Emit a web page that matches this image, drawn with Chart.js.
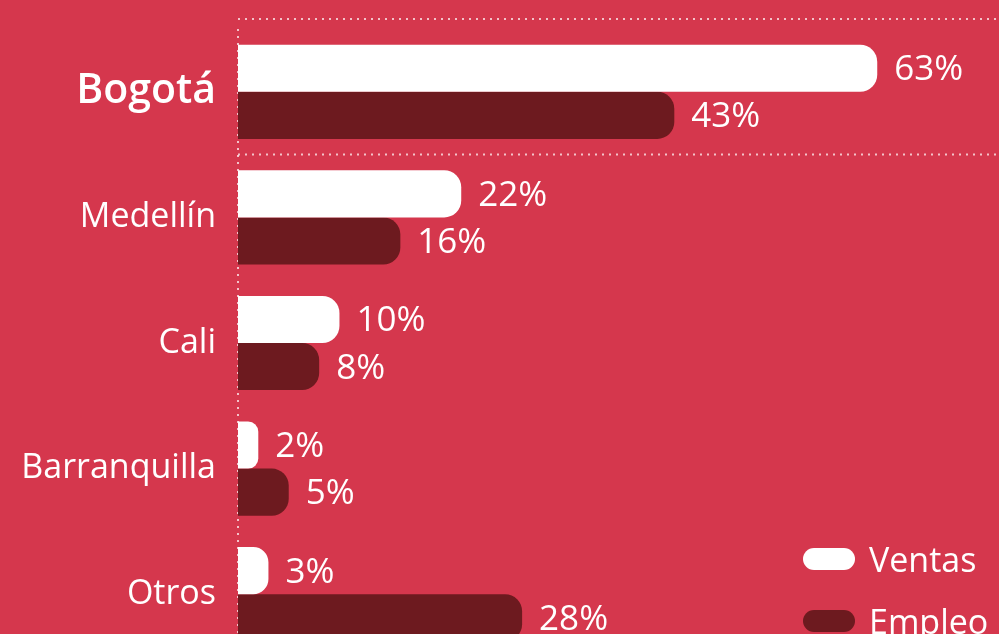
<!DOCTYPE html>
<html>
<head>
<meta charset="utf-8">
<script src="https://cdn.jsdelivr.net/npm/chart.js@4/dist/chart.umd.min.js"></script>
<style>
    html, body { margin: 0; padding: 0; background: #D5374D; overflow: hidden; }
    #wrap { position: relative; width: 999px; height: 634px; overflow: hidden; }
    #chartBox { position: absolute; left: 0; top: 0; }
    #legend { position: absolute; left: 803px; top: 528px; font-family: 'Open Sans'; font-size: 34px; color: #fff; }
    .item { display: flex; align-items: center; height: 62px; }
    .pill { width: 52px; height: 22px; border-radius: 11px; margin-right: 14px; }
</style>
</head>
<body>
<div id="wrap">
    <canvas id="chartBox" width="999" height="657"></canvas>
    <div id="legend"></div>
</div>
<script>
// data
const cities = ['Bogotá', 'Medellín', 'Cali', 'Barranquilla', 'Otros'];
const ventas = [63, 22, 10, 2, 3];
const empleo = [43, 16, 8, 5, 28];
const seriesNames = ['Ventas', 'Empleo'];
const seriesColors = ['#FFFFFF', '#6D1A1F'];

const dotColor = 'rgba(255,255,255,0.7)';

// dotted lines (axis + box around Bogotá) and value labels
const decorPlugin = {
    id: 'decor',
    beforeDatasetsDraw(chart){
        const {ctx, chartArea, scales} = chart;
        const y = scales.y;
        const mid = (y.getPixelForValue(0) + y.getPixelForValue(1)) / 2;
        ctx.save();
        ctx.strokeStyle = dotColor;
        ctx.lineWidth = 2;
        ctx.setLineDash([2, 5]);
        [chartArea.top - 10, mid].forEach((py) => {
            ctx.beginPath();
            ctx.moveTo(chartArea.left, py);
            ctx.lineTo(chartArea.right, py);
            ctx.stroke();
        });
        ctx.beginPath();
        ctx.moveTo(chartArea.left, chartArea.top);
        ctx.lineTo(chartArea.left, chartArea.bottom);
        ctx.stroke();
        ctx.restore();
    },
    afterDatasetsDraw(chart){
        const ctx = chart.ctx;
        ctx.save();
        ctx.fillStyle = '#fff';
        ctx.font = '35px "Open Sans"';
        ctx.textAlign = 'left';
        ctx.textBaseline = 'middle';
        chart.data.datasets.forEach((ds, i) => {
            chart.getDatasetMeta(i).data.forEach((bar, j) => {
                ctx.fillText(ds.data[j] + '%', bar.x + 17, bar.y + 2);
            });
        });
        ctx.restore();
    }
};

Chart.defaults.font.family = 'Open Sans';

const myChart = new Chart(document.getElementById('chartBox'), {
    type: 'bar',
    data: {
        labels: cities,
        datasets: [
            { label: seriesNames[0], data: ventas, backgroundColor: seriesColors[0] },
            { label: seriesNames[1], data: empleo, backgroundColor: seriesColors[1] }
        ]
    },
    options: {
        indexAxis: 'y',
        responsive: false,
        animation: false,
        layout: { padding: { top: 29, bottom: 0, left: 0, right: 0 } },
        datasets: {
            bar: {
                barPercentage: 1,
                categoryPercentage: 0.75,
                borderRadius: 17,
                borderSkipped: 'start'
            }
        },
        plugins: {
            legend: { display: false },
            tooltip: { enabled: false }
        },
        scales: {
            x: { display: false, min: 0, max: 75 },
            y: {
                afterFit: function(scale){
                    scale.width = 238;
                    scale.paddingTop = 0;
                    scale.paddingBottom = 0;
                },
                grid: { display: false, drawTicks: false },
                border: { display: false },
                ticks: {
                    color: '#fff',
                    padding: 22,
                    // Bogotá is highlighted: larger and bolder
                    font: function(ctx){
                        if (ctx.index === 0) {
                            return { family: 'Open Sans', size: 41, weight: '600' };
                        }
                        return { family: 'Open Sans', size: 34, weight: 'normal' };
                    }
                }
            }
        }
    },
    plugins: [decorPlugin]
});

// legend built from the series
const legend = document.getElementById('legend');
seriesNames.forEach((name, i) => {
    const item = document.createElement('div');
    item.className = 'item';
    const pill = document.createElement('span');
    pill.className = 'pill';
    pill.style.background = seriesColors[i];
    const txt = document.createElement('span');
    txt.textContent = name;
    item.appendChild(pill);
    item.appendChild(txt);
    legend.appendChild(item);
});
</script>
</body>
</html>
